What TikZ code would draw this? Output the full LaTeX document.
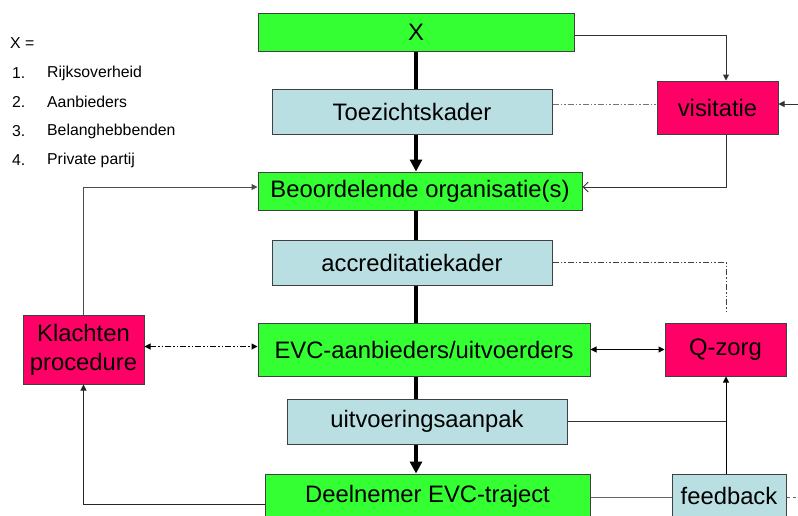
\documentclass[tikz,border=0pt]{standalone}
\usepackage{fontspec}
\setmainfont{Liberation Sans}
\usetikzlibrary{arrows.meta}
\definecolor{gr}{RGB}{51,255,51}
\definecolor{lb}{RGB}{185,223,227}
\definecolor{pk}{RGB}{255,0,102}
\begin{document}
\begin{tikzpicture}[x=1pt,y=-1pt,
  box/.style={draw=black!75, line width=1pt, inner sep=0pt, align=center,
    font=\fontsize{23.8}{29}\selectfont},
  gbox/.style={box, fill=gr},
  bbox/.style={box, fill=lb},
  pbox/.style={box, fill=pk},
  legend/.style={anchor=west, inner sep=0pt, font=\fontsize{15.8}{18}\selectfont},
  spine/.style={line width=3.5pt, black},
  spinearrow/.style={spine, -{Triangle[length=12pt,width=12pt]}},
  thin/.style={line width=1pt, black!80},
  tarrow/.style={thin, -{Triangle[length=6pt,width=6pt]}},
  dashdotdot/.style={line width=1pt, dash pattern=on 6pt off 2pt on 1.5pt off 2pt on 1.5pt off 2pt}
]
\useasboundingbox (0,0) rectangle (798,515);

% legend
\node[legend] (l0) at (10,43) {X =};
\node[legend] (n1) at (12,73) {1.};
\node[legend] (t1) at (47,73) {Rijksoverheid};
\node[legend] (n2) at (12,102) {2.};
\node[legend] (t2) at (47,102) {Aanbieders};
\node[legend] (n3) at (12,131) {3.};
\node[legend] (t3) at (47,131) {Belanghebbenden};
\node[legend] (n4) at (12,160) {4.};
\node[legend] (t4) at (47,160) {Private partij};

% boxes
\node[gbox, minimum width=316pt, minimum height=38pt] (X) at (416,32) {X};
\node[bbox, minimum width=280pt, minimum height=45pt] (toez) at (412,111.5) {Toezichtskader};
\node[gbox, minimum width=324pt, minimum height=38pt] (beo) at (420,191) {Beoordelende organisatie(s)};
\node[bbox, minimum width=280pt, minimum height=45pt] (accr) at (412,262.5) {accreditatiekader};
\node[gbox, minimum width=332pt, minimum height=53pt] (evc) at (424,349.5) {EVC-aanbieders/uitvoerders};
\node[bbox, minimum width=280pt, minimum height=45pt] (uitv) at (427,421.5) {uitvoeringsaanpak};
\node[gbox, minimum width=325pt, minimum height=44pt] (deel) at (427.5,496) {Deelnemer EVC-traject};
\node[pbox, minimum width=121pt, minimum height=53pt] (vis) at (717.5,107.5) {visitatie};
\node[pbox, minimum width=121pt, minimum height=69pt] (kl) at (83.5,349.5) {Klachten\\procedure};
\node[pbox, minimum width=121pt, minimum height=53pt] (q) at (725.5,349.5) {Q-zorg};
\node[bbox, minimum width=114pt, minimum height=44pt] (fb) at (729,496) {feedback};

% helper coordinates
\coordinate (col) at (726,0);
\coordinate (redge) at (798,104);
\coordinate (accrend) at (726,313);
\coordinate (fbend) at (798,497);

% spine
\draw[spine] (X.south) -- (X.south |- toez.north);
\draw[spinearrow] (X.south |- toez.south) -- (X.south |- beo.north);
\draw[spine] (X.south |- beo.south) -- (X.south |- accr.north);
\draw[spine] (X.south |- accr.south) -- (X.south |- evc.north);
\draw[spine] (X.south |- evc.south) -- (X.south |- uitv.north);
\draw[spinearrow] (X.south |- uitv.south) -- (X.south |- deel.north);

% right side
\draw[tarrow] ([yshift=-3pt]X.east) -| (vis.north -| col);
\draw[thin, -{Straight Barb[length=5pt,width=10pt]}] (vis.south -| col) |- ([yshift=4pt]beo.east);
\draw[tarrow] (redge) -- (redge -| vis.east);
\draw[dashdotdot, black!55] (toez.east |- redge) -- (vis.west |- redge);
\draw[dashdotdot, black!75] (accr.east) -| (accrend);
\draw[thin, black, {Triangle[length=6pt,width=6pt]}-{Triangle[length=6pt,width=6pt]}] (evc.east) -- (q.west);
\draw[thin] (uitv.east) -- (uitv.east -| col);
\draw[tarrow, black] (fb.north -| col) -- (q.south -| col);
\draw[thin, black!60] ([yshift=-1pt]deel.east) -- ([yshift=-1pt]fb.west);
\draw[thin, black!60, dashed] ([yshift=-1pt]fb.east) -- (fbend);

% left side
\draw[dashdotdot, black, {Triangle[length=6pt,width=6pt]}-{Triangle[length=6pt,width=6pt]}] ([yshift=3pt]kl.east) -- ([yshift=3pt]kl.east -| evc.west);
\draw[tarrow, black!70] (kl.north) |- ([yshift=4pt]beo.west);
\draw[tarrow, black!85] ([yshift=-8pt]deel.west) -| (kl.south);
\end{tikzpicture}
\end{document}
